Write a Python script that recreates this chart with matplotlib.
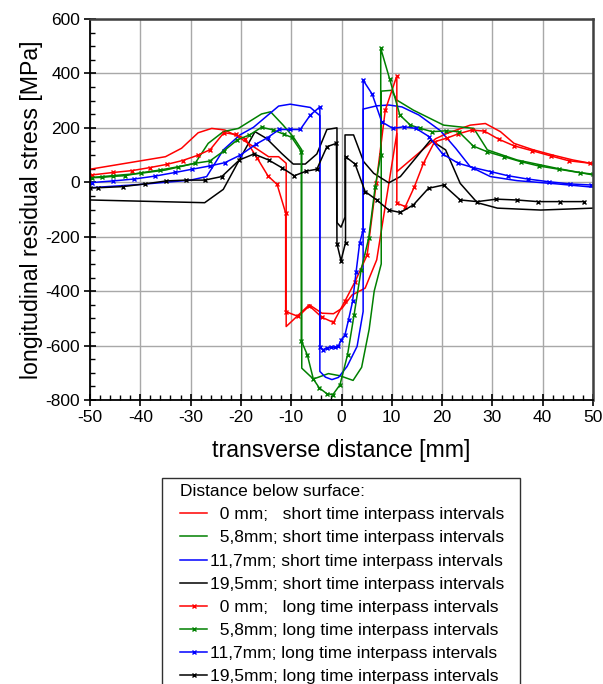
"""Longitudinal residual stress vs transverse distance, short / long interpass intervals."""

import matplotlib

matplotlib.use("Agg")
import matplotlib.pyplot as plt
from matplotlib.patches import Rectangle
from matplotlib.ticker import MultipleLocator

plt.rcParams["font.family"] = ["Liberation Sans", "DejaVu Sans"]
plt.rcParams["axes.unicode_minus"] = False

# --- short time interpass intervals (no markers) ---
RED_SHORT_X = [-50, -35, -31.8, -28.5, -25.8, -23.2, -20.8, -17.5, -14.5, -12.5, -11, -11,
               -6.4, -3.9, -1.6, 0.1, 2.1, 4.7, 7.0, 11, 11, 18.7, 21, 25.6, 28.6, 31.6,
               34.3, 38, 42, 46, 50]
RED_SHORT_Y = [48, 94, 125, 182, 198, 192, 170, 131, 94, 94, 70, -530,
               -450, -481, -483, -463, -414, -389, -285, 180, 39, 160, 180, 210, 216, 186,
               143, 120, 100, 82, 68]

GREEN_SHORT_X = [-50, -40, -35, -29.1, -26.5, -23.5, -20.5, -15.9, -14.1, -11.6, -9.6, -7.9,
                 -7.9, -5.6, -2.6, -0.3, 2.3, 4.0, 5.5, 6.5, 7.9, 7.9, 10, 11, 14.3, 20.3,
                 26.3, 29, 34.9, 42.9, 50]
GREEN_SHORT_Y = [17, 33, 45, 70, 143, 186, 198, 251, 259, 210, 167, 119,
                 -683, -723, -703, -711, -728, -680, -540, -400, -300, 335, 338, 302, 265, 210,
                 198, 119, 82, 51, 27]

BLUE_SHORT_X = [-50, -40, -30, -26.8, -23.5, -20.2, -17.5, -12.5, -10.2, -6.2, -4.3, -4.3,
                -3.2, -1.9, -0.6, 1.1, 3.1, 4.3, 4.3, 7.0, 9.4, 12, 15.4, 19.7, 22.7, 25.6,
                29.6, 34.9, 42.9, 50]
BLUE_SHORT_Y = [-20, -8, 8, 21, 119, 174, 202, 280, 287, 275, 245, -695,
                -716, -725, -717, -677, -603, -475, 269, 281, 284, 277, 247, 189, 125, 57,
                21, 6, -6, -18]

BLACK_SHORT_X = [-50, -27.2, -23.5, -20.5, -17.2, -14.9, -11.9, -9.6, -7.2, -4.9, -2.9, -0.9,
                 -0.9, -0.1, 0.7, 0.7, 2.4, 4.4, 6.4, 9.4, 11.7, 17.7, 20.7, 23.6, 27, 31,
                 39.6, 50]
BLACK_SHORT_Y = [-65, -75, -26, 76, 186, 161, 106, 67, 67, 104, 194, 200,
                 -148, -165, -128, 174, 174, 76, 33, -2, 21, 155, 119, -4, -75, -95,
                 -102, -95]

# --- long time interpass intervals (x markers) ---
RED_LONG_X = [-49.6, -45.4, -41.6, -38.1, -34.7, -31.6, -28.6, -26.1, -23.4, -21, -19.2, -16.8,
              -14.6, -12.8, -11.1, -11.1, -8.6, -6.4, -3.9, -1.6, 0.7, 2.7, 5.1, 6.9, 8.7,
              11.0, 11.0, 12.7, 14.5, 16.3, 18.5, 20.9, 23.2, 25.9, 28.4, 31.3, 34.3, 37.9,
              41.6, 45.2, 49.5]
RED_LONG_Y = [27, 36, 43, 54, 66, 80, 99, 120, 182, 176, 160, 90,
              23, -8, -113, -475, -493, -454, -496, -515, -436, -365, -267, -4, 265,
              391, -77, -89, -16, 70, 149, 162, 178, 192, 188, 158, 134, 116,
              97, 79, 70]

GREEN_LONG_X = [-49.6, -47.6, -45.4, -43.1, -39.8, -36.1, -32.5, -29.1, -26.2, -23.4, -20.7,
                -18.3, -15.9, -13.7, -11.5, -9.9, -8, -8, -6.8, -5.6, -4.4, -2.9, -1.7, -0.3,
                1.2, 2.5, 3.9, 5.4, 6.7, 7.8, 7.8, 9.6, 11.6, 13.7, 15.7, 18, 20.7, 23.3,
                26.2, 29, 32.3, 35.6, 39.2, 43.2, 47.5, 50]
GREEN_LONG_Y = [17, 18, 22, 24, 35, 45, 57, 70, 78, 115, 156,
                174, 202, 193, 177, 165, 113, -582, -634, -723, -756, -777, -780, -744,
                -634, -487, -322, -206, -16, 100, 492, 378, 247, 210, 198, 186, 189, 186,
                133, 112, 94, 76, 60, 48, 35, 30]

BLUE_LONG_X = [-49.6, -45.4, -41.2, -37, -33.1, -29.7, -26.2, -23.2, -20.1, -17, -14.7, -12.4,
               -10.2, -8.2, -6.2, -4.3, -4.3, -3.7, -2.9, -2.1, -1.3, -0.6, -0.06, 0.7, 1.4,
               2.2, 2.9, 3.6, 4.3, 4.3, 6.1, 8.0, 10.2, 12.4, 14.8, 17.4, 20.1, 23.2, 26.2,
               29.7, 33.1, 37, 41.2, 45.4, 49.6]
BLUE_LONG_Y = [-1, 5, 12, 23, 36, 48, 60, 72, 100, 140, 164, 194,
               194, 194, 247, 277, -606, -615, -609, -606, -606, -601, -579, -560, -505,
               -438, -330, -224, -175, 375, 324, 222, 198, 204, 198, 168, 104, 70, 54,
               39, 24, 12, 2, -6, -10]

BLACK_LONG_X = [-50, -48.4, -43.5, -39.1, -34.8, -30.9, -27.2, -23.8, -20.3, -17.4, -14.5,
                -11.9, -9.4, -7.0, -4.9, -2.9, -1.0, -0.9, -0.1, 0.8, 0.8, 2.7, 4.7, 7.0,
                9.4, 11.7, 14.3, 17.3, 20.3, 23.6, 27, 30.8, 34.8, 39, 43.4, 48.3]
BLACK_LONG_Y = [-21, -20, -16, -6, 5, 8, 8, 21, 82, 104, 82,
                54, 24, 41, 48, 131, 143, -226, -288, -222, 94, 67, -34, -65,
                -102, -111, -83, -22, -10, -65, -71, -62, -65, -71, -71, -71]

SERIES = [
    (RED_SHORT_X, RED_SHORT_Y, "red", False, "  0 mm;   short time interpass intervals"),
    (GREEN_SHORT_X, GREEN_SHORT_Y, "#008000", False, "  5,8mm; short time interpass intervals"),
    (BLUE_SHORT_X, BLUE_SHORT_Y, "blue", False, "11,7mm; short time interpass intervals"),
    (BLACK_SHORT_X, BLACK_SHORT_Y, "black", False, "19,5mm; short time interpass intervals"),
    (RED_LONG_X, RED_LONG_Y, "red", True, "  0 mm;   long time interpass intervals"),
    (GREEN_LONG_X, GREEN_LONG_Y, "#008000", True, "  5,8mm; long time interpass intervals"),
    (BLUE_LONG_X, BLUE_LONG_Y, "blue", True, "11,7mm; long time interpass intervals"),
    (BLACK_LONG_X, BLACK_LONG_Y, "black", True, "19,5mm; long time interpass intervals"),
]

W, H = 603, 684
fig = plt.figure(figsize=(W / 100, H / 100), dpi=100)
ax = fig.add_axes([90 / W, 1 - 400 / H, 503 / W, 381 / H])

for xs, ys, color, long_run, label in SERIES:
    ax.plot(xs, ys, color=color, lw=1.1, label=label,
            marker="x" if long_run else None, ms=3.5, mew=1.0)

ax.set_xlim(-50, 50)
ax.set_ylim(-800, 600)
ax.xaxis.set_major_locator(MultipleLocator(10))
ax.xaxis.set_minor_locator(MultipleLocator(2))
ax.yaxis.set_major_locator(MultipleLocator(200))
ax.yaxis.set_minor_locator(MultipleLocator(50))
ax.grid(which="major", color="#a8a8a8", lw=1.0)
ax.set_axisbelow(True)

ax.tick_params(which="major", direction="inout", length=8, width=1.2, labelsize=12.5, pad=3)
ax.tick_params(which="minor", direction="in", length=3.5, width=1.0)
ax.tick_params(top=False, right=False, which="both")

for side in ("left", "bottom"):
    ax.spines[side].set_linewidth(1.3)
    ax.spines[side].set_color("black")
for side in ("top", "right"):
    ax.spines[side].set_linewidth(1.8)
    ax.spines[side].set_color("#404040")

ax.set_xlabel("transverse distance [mm]", fontsize=16.7, labelpad=10)
ax.set_ylabel("longitudinal residual stress [MPa]", fontsize=16.7, labelpad=2)

# legend box runs off the bottom of the figure, as in the source image
fig.patches.append(Rectangle((162 / W, -0.05), (520 - 162) / W, 0.05 + 1 - 478 / H,
                             transform=fig.transFigure, facecolor="white",
                             edgecolor="#303030", lw=1.0, zorder=0))
leg = fig.legend(loc="upper left", bbox_to_anchor=(171 / W, 1 - 475.5 / H),
                 title="Distance below surface:", title_fontsize=12.5, fontsize=12.5,
                 alignment="left", frameon=False, handlelength=1.6, handletextpad=0.15,
                 labelspacing=0.46, borderpad=0.5, borderaxespad=0, numpoints=1)

fig.savefig("out.png", dpi=100)
